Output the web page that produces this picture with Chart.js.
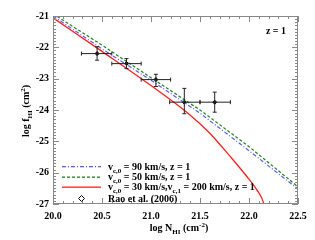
<!DOCTYPE html>
<html>
<head>
<meta charset="utf-8">
<script src="https://cdn.jsdelivr.net/npm/chart.js@4/dist/chart.umd.min.js"></script>
<style>
  html, body { margin: 0; padding: 0; background: #fff; }
  #wrap { width: 315px; height: 240px; }
</style>
</head>
<body>
<div id="wrap"><canvas id="myChart" width="315" height="240"></canvas></div>
<script>
// model curves
const blueX = [20.0, 20.5, 21.0, 21.5, 22.0, 22.5]
const blueY = [-21.0, -22.05, -23.05, -24.1, -25.3, -26.52]
const greenX = [20.0, 20.5, 21.0, 21.5, 22.0, 22.5]
const greenY = [-20.93, -21.93, -22.97, -24.0, -25.17, -26.45]
const redX = [20.0, 20.5, 21.0, 21.38, 21.6, 21.81, 21.98, 22.08, 22.15, 22.17]
const redY = [-21.06, -22.13, -23.22, -24.11, -24.74, -25.49, -26.13, -26.55, -26.98, -27.3]

// Rao et al. (2006)
const raoX = [20.45, 20.75, 21.05, 21.34, 21.65]
const raoY = [-22.2, -22.52, -23.03, -23.75, -23.75]
const raoXlo = [20.29, 20.60, 20.90, 21.19, 21.50]
const raoXhi = [20.60, 20.90, 21.20, 21.50, 21.81]
const raoYlo = [-22.41, -22.68, -23.25, -24.12, -24.07]
const raoYhi = [-21.98, -22.36, -22.86, -23.31, -23.43]

const xTicks = [20.0, 20.5, 21.0, 21.5, 22.0, 22.5]
const yTicks = [-27, -26, -25, -24, -23, -22, -21]

const BLUE = '#5a5aff'
const GREEN = '#1e821e'
const RED = '#ff1e1e'
const FONT = '"Liberation Serif", "DejaVu Serif", serif'

const pts = (xs, ys) => xs.map((x, i) => ({x: x, y: ys[i]}))

// text with sub/superscripts, left aligned at x unless centred
const drawRich = (c, parts, x, y, size, centred) => {
    const fontOf = p => 'bold ' + (p.s || p.u ? Math.round(size * 0.65) : size) + 'px ' + FONT
    let w = 0
    parts.forEach(p => { c.font = fontOf(p); w += c.measureText(p.t).width })
    let cx = centred ? x - w / 2 : x
    c.textAlign = 'left'
    c.textBaseline = 'alphabetic'
    parts.forEach(p => {
        c.font = fontOf(p)
        const dy = p.s ? size * 0.3 : (p.u ? -size * 0.4 : 0)
        c.fillText(p.t, cx, y + dy)
        cx += c.measureText(p.t).width
    })
}

// legend sample: [on, off] pattern drawn as filled runs
const legendRows = [
    {y: 166, color: BLUE, dash: [4, 2, 1, 2], parts: [{t: 'v'}, {t: 'c,0', s: 1}, {t: ' = 90 km/s, z = 1'}]},
    {y: 176.5, color: GREEN, dash: [3, 2], parts: [{t: 'v'}, {t: 'c,0', s: 1}, {t: ' = 50 km/s, z = 1'}]},
    {y: 186.5, color: RED, dash: [39, 0], parts: [{t: 'v'}, {t: 'c,0', s: 1}, {t: ' = 30 km/s,v'}, {t: 'c,1', s: 1}, {t: ' = 200 km/s, z = 1'}]}
]

const extras = {
    id: 'extras',
    afterDraw(chart) {
        const c = chart.ctx
        const xs = chart.scales.x, ys = chart.scales.y
        const a = chart.chartArea

        // error bars
        c.save()
        c.strokeStyle = '#222'
        c.lineWidth = 1
        c.beginPath()
        for (let i = 0; i < raoX.length; i++) {
            const px = xs.getPixelForValue(raoX[i]), py = ys.getPixelForValue(raoY[i])
            const x0 = xs.getPixelForValue(raoXlo[i]), x1 = xs.getPixelForValue(raoXhi[i])
            const y0 = ys.getPixelForValue(raoYlo[i]), y1 = ys.getPixelForValue(raoYhi[i])
            c.moveTo(x0, py); c.lineTo(x1, py)
            c.moveTo(x0, py - 2); c.lineTo(x0, py + 2)
            c.moveTo(x1, py - 2); c.lineTo(x1, py + 2)
            c.moveTo(px, y0); c.lineTo(px, y1)
            c.moveTo(px - 2, y0); c.lineTo(px + 2, y0)
            c.moveTo(px - 2, y1); c.lineTo(px + 2, y1)
        }
        c.stroke()
        c.restore()

        // frame + inward ticks
        c.save()
        c.strokeStyle = '#888'
        c.lineWidth = 1
        c.strokeRect(a.left + 0.5, a.top + 0.5, a.right - a.left - 1, a.bottom - a.top - 1)
        c.beginPath()
        for (let k = 0; k <= 25; k++) {
            const p = Math.round(xs.getPixelForValue(20 + k * 0.1)) + 0.5
            const len = k % 5 === 0 ? 6 : 3
            c.moveTo(p, a.bottom); c.lineTo(p, a.bottom - len)
            c.moveTo(p, a.top); c.lineTo(p, a.top + len)
        }
        for (let k = 0; k <= 60; k++) {
            const p = Math.round(ys.getPixelForValue(-27 + k * 0.1)) + 0.5
            const len = k % 10 === 0 ? 6 : 3
            c.moveTo(a.left, p); c.lineTo(a.left + len, p)
            c.moveTo(a.right, p); c.lineTo(a.right - len, p)
        }
        c.stroke()
        c.restore()

        // z label
        c.save()
        c.fillStyle = '#000'
        drawRich(c, [{t: 'z = 1'}], 276, 34, 10, true)
        c.restore()

        // legend
        legendRows.forEach(r => {
            c.save()
            c.fillStyle = r.color
            let x = 62, k = 0
            while (x < 101) {
                const run = r.dash[k % r.dash.length]
                if (k % 2 === 0) c.fillRect(x, r.y, Math.min(run, 101 - x), 1.3)
                x += run
                k++
            }
            c.fillStyle = '#000'
            drawRich(c, r.parts, 108, r.y + 3.5, 10, false)
            c.restore()
        })
        c.save()
        c.strokeStyle = '#000'
        c.lineWidth = 1
        c.beginPath()
        c.moveTo(81.5, 195.5); c.lineTo(84.5, 198.5); c.lineTo(81.5, 201.5); c.lineTo(78.5, 198.5); c.closePath()
        c.stroke()
        c.fillStyle = '#000'
        drawRich(c, [{t: 'Rao et al. (2006)'}], 108, 201.5, 10, false)
        c.restore()

        // axis titles
        c.save()
        c.fillStyle = '#000'
        drawRich(c, [{t: 'log N'}, {t: 'HI', s: 1}, {t: ' (cm'}, {t: '-2', u: 1}, {t: ')'}], 179, 231, 10, true)
        c.restore()
        c.save()
        c.fillStyle = '#000'
        c.translate(29, 111)
        c.rotate(-Math.PI / 2)
        drawRich(c, [{t: 'log f'}, {t: 'HI', s: 1}, {t: ' (cm'}, {t: '2', u: 1}, {t: ')'}], 0, 0, 10, true)
        c.restore()
    }
}

const ctx = document.getElementById('myChart').getContext('2d')

const myChart = new Chart(ctx, {
    type: 'scatter',
    data: {
        datasets: [
            {
                label: 'v_c,0 = 90 km/s, z = 1',
                data: pts(blueX, blueY),
                showLine: true,
                borderColor: BLUE,
                borderDash: [4, 2, 1, 2],
                borderWidth: 1.2,
                pointRadius: 0,
                tension: 0
            },
            {
                label: 'v_c,0 = 50 km/s, z = 1',
                data: pts(greenX, greenY),
                showLine: true,
                borderColor: GREEN,
                borderDash: [3, 2],
                borderWidth: 1.2,
                pointRadius: 0,
                tension: 0
            },
            {
                label: 'v_c,0 = 30 km/s,v_c,1 = 200 km/s, z = 1',
                data: pts(redX, redY),
                showLine: true,
                borderColor: RED,
                borderWidth: 1.3,
                pointRadius: 0,
                cubicInterpolationMode: 'monotone'
            },
            {
                label: 'Rao et al. (2006)',
                data: pts(raoX, raoY),
                pointStyle: 'rectRot',
                pointRadius: 2,
                backgroundColor: '#000',
                borderColor: '#000',
                borderWidth: 1
            }
        ]
    },
    options: {
        responsive: false,
        animation: false,
        layout: { padding: { left: 0, right: 17, top: 16, bottom: 0 } },
        plugins: { legend: { display: false }, tooltip: { enabled: false } },
        scales: {
            x: {
                type: 'linear',
                min: 20, max: 22.5,
                afterFit: s => { s.height = 36 },
                afterBuildTicks: s => { s.ticks = xTicks.map(v => ({value: v})) },
                grid: { display: false, drawTicks: false },
                border: { display: false },
                ticks: {
                    color: '#000',
                    padding: 6,
                    maxRotation: 0,
                    autoSkip: false,
                    font: { family: FONT, size: 10, weight: 'bold' },
                    callback: v => v.toFixed(1)
                }
            },
            y: {
                type: 'linear',
                min: -27, max: -21,
                afterFit: s => { s.width = 53 },
                afterBuildTicks: s => { s.ticks = yTicks.map(v => ({value: v})) },
                grid: { display: false, drawTicks: false },
                border: { display: false },
                ticks: {
                    color: '#000',
                    padding: 4,
                    autoSkip: false,
                    font: { family: FONT, size: 10, weight: 'bold' },
                    callback: v => String(v)
                }
            }
        }
    },
    plugins: [extras]
})
</script>
</body>
</html>
